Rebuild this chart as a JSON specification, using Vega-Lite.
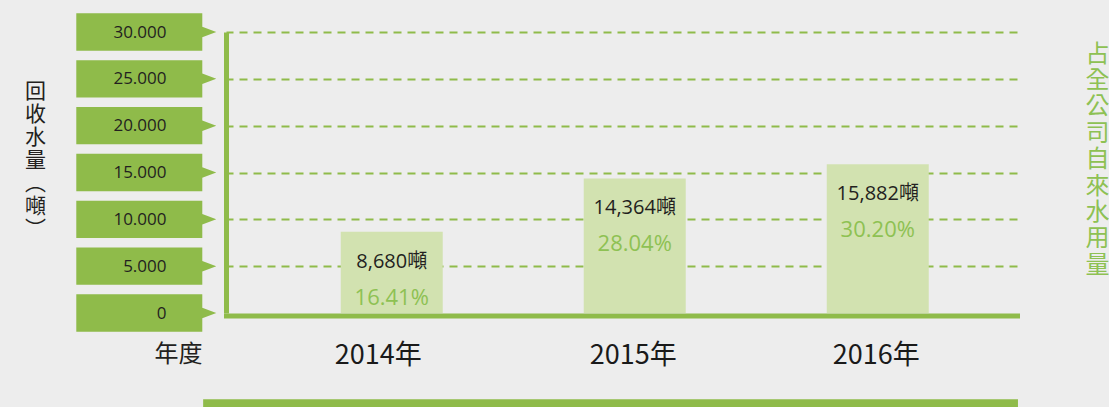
{
  "$schema": "https://vega.github.io/schema/vega-lite/v6.json",
  "width": 791,
  "height": 281,
  "autosize": {"type": "none"},
  "padding": {"left": 226, "top": 32, "right": 92, "bottom": 94},
  "background": "#ededed",
  "config": {"view": {"stroke": null}},
  "datasets": {
    "water": [
      {"year": 2014, "tons": 8680, "tonsLabel": "8,680噸", "pctLabel": "16.41%"},
      {"year": 2015, "tons": 14364, "tonsLabel": "14,364噸", "pctLabel": "28.04%"},
      {"year": 2016, "tons": 15882, "tonsLabel": "15,882噸", "pctLabel": "30.20%"}
    ],
    "ticks": [
      {"tick": 0}, {"tick": 5000}, {"tick": 10000}, {"tick": 15000},
      {"tick": 20000}, {"tick": 25000}, {"tick": 30000}
    ],
    "band": [{"name": "footer"}]
  },
  "resolve": {"axis": {"y": "independent"}},
  "layer": [
    {
      "data": {"name": "water"},
      "mark": {"type": "bar", "width": 102, "color": "#d2e2b0"},
      "encoding": {
        "x": {
          "field": "year", "type": "quantitative",
          "scale": {"domain": [2013.318, 2016.573], "nice": false, "zero": false, "padding": 0},
          "axis": {
            "values": [2014, 2015, 2016],
            "labelExpr": "datum.value + '年'",
            "grid": false,
            "ticks": false,
            "tickSize": 0,
            "offset": 2.5,
            "domainColor": "#8fbb4a",
            "domainWidth": 5,
            "domainCap": "square",
            "labelFont": "Noto Sans CJK TC",
            "labelFontSize": 27,
            "labelColor": "#1a1a1a",
            "labelBaseline": "middle",
            "labelPadding": 40,
            "labelOffset": {"condition": {"test": "datum.value == 2014", "value": -14}, "value": -2},
            "labelFlush": false,
            "labelOverlap": false,
            "title": "年度",
            "titleFont": "Noto Sans CJK TC",
            "titleFontSize": 24,
            "titleFontWeight": "normal",
            "titleColor": "#231f20",
            "titleX": -48,
            "titleY": 39,
            "titleAlign": "center",
            "titleBaseline": "middle",
            "titleAngle": 0
          }
        },
        "y": {
          "field": "tons", "type": "quantitative",
          "scale": {"domain": [0, 30000], "nice": false, "zero": false, "padding": 0},
          "axis": {
            "orient": "left",
            "values": [0, 5000, 10000, 15000, 20000, 25000, 30000],
            "labelExpr": "replace(format(datum.value, ',d'), ',', '.')",
            "grid": false,
            "ticks": false,
            "tickSize": 0,
            "domainColor": "#8fbb4a",
            "domainWidth": 5,
            "labelFont": "Open Sans",
            "labelFontSize": 17,
            "labelColor": "#231f20",
            "labelAlign": "right",
            "labelBaseline": "middle",
            "labelPadding": 60,
            "labelOverlap": false,
            "zindex": 1,
            "title": ["回", "收", "水", "量", "︵", "噸", "︶"],
            "titleFont": "Noto Sans CJK TC",
            "titleFontSize": 21,
            "titleFontWeight": "normal",
            "titleColor": "#231f20",
            "titleLineHeight": 23,
            "titleAngle": 0,
            "titleAlign": "center",
            "titleBaseline": "top",
            "titleX": -191,
            "titleY": 48
          }
        }
      }
    },
    {
      "data": {"name": "ticks"},
      "mark": {
        "type": "point",
        "filled": true,
        "opacity": 1,
        "color": "#8fbb4a",
        "size": 19600,
        "shape": "M-1,-0.267L0.8,-0.267L0.8,-0.075L1,0L0.8,0.075L0.8,0.267L-1,0.267Z",
        "clip": false
      },
      "encoding": {
        "x": {"datum": 2012.99, "type": "quantitative", "scale": {"domain": [2013.318, 2016.573], "nice": false, "zero": false, "padding": 0}},
        "y": {"field": "tick", "type": "quantitative", "scale": {"domain": [0, 30000], "nice": false, "zero": false, "padding": 0}, "axis": null}
      }
    },
    {
      "data": {"name": "water"},
      "mark": {"type": "text", "dy": 30, "baseline": "middle", "align": "center", "font": "Open Sans, Noto Sans CJK TC", "fontSize": 20, "color": "#231f20"},
      "encoding": {
        "x": {"field": "year", "type": "quantitative", "scale": {"domain": [2013.318, 2016.573], "nice": false, "zero": false, "padding": 0}},
        "y": {"field": "tons", "type": "quantitative", "scale": {"domain": [0, 30000], "nice": false, "zero": false, "padding": 0}, "axis": null},
        "text": {"field": "tonsLabel", "type": "nominal"}
      }
    },
    {
      "data": {"name": "water"},
      "mark": {"type": "text", "dy": 66, "baseline": "middle", "align": "center", "font": "Open Sans", "fontSize": 22, "color": "#8ec153"},
      "encoding": {
        "x": {"field": "year", "type": "quantitative", "scale": {"domain": [2013.318, 2016.573], "nice": false, "zero": false, "padding": 0}},
        "y": {
          "field": "tons", "type": "quantitative",
          "scale": {"domain": [0, 30000], "nice": false, "zero": false, "padding": 0},
          "axis": {
            "orient": "right",
            "values": [5000, 10000, 15000, 20000, 25000, 30000],
            "grid": true,
            "gridColor": "#8fbb4a",
            "gridWidth": 2,
            "gridDash": [8, 6],
            "gridOpacity": 1,
            "labels": false,
            "ticks": false,
            "domain": false,
            "zindex": 0,
            "title": ["占", "全", "公", "司", "自", "來", "水", "用", "量"],
            "titleFont": "Noto Sans CJK TC",
            "titleFontSize": 24,
            "titleFontWeight": "normal",
            "titleColor": "#8ec153",
            "titleLineHeight": 26.4,
            "titleAngle": 0,
            "titleAlign": "center",
            "titleBaseline": "top",
            "titleX": 80,
            "titleY": 10
          }
        },
        "text": {"field": "pctLabel", "type": "nominal"}
      }
    },
    {
      "data": {"name": "band"},
      "mark": {"type": "rect", "color": "#8fbb4a", "clip": false},
      "encoding": {
        "x": {"datum": 2013.224, "type": "quantitative", "scale": {"domain": [2013.318, 2016.573], "nice": false, "zero": false, "padding": 0}},
        "x2": {"datum": 2016.577},
        "y": {"datum": -9200, "type": "quantitative", "scale": {"domain": [0, 30000], "nice": false, "zero": false, "padding": 0}, "axis": null},
        "y2": {"datum": -10400}
      }
    }
  ]
}
